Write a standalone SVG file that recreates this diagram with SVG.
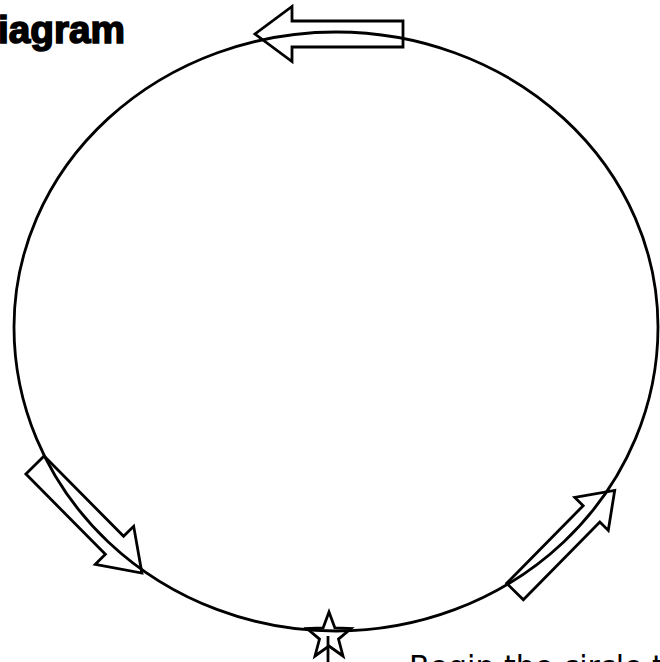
<svg xmlns="http://www.w3.org/2000/svg" width="660" height="662" viewBox="0 0 660 662">
<style>
.line{fill:none;stroke:#000;stroke-width:2.8;stroke-linejoin:miter}
.arrow{fill:none;stroke:#000;stroke-width:2.8;stroke-linejoin:miter}
.title{font-family:"Liberation Sans",Arial,sans-serif;font-weight:bold;font-size:38px;fill:#000;stroke:#000;stroke-width:1.6}
.caption{font-family:"DejaVu Sans",sans-serif;font-size:30px;fill:#000}
</style>
<rect width="660" height="662" fill="#fff"/>
<text class="title" x="-2" y="43" textLength="127" lengthAdjust="spacingAndGlyphs">iagram</text>
<g id="cycle">
<path class="line" d="M14,327 A322,295 0 0,1 336,32 A322,295 0 0,1 658,327 A322,304 0 0,1 336,631 A322,304 0 0,1 14,327 Z"/>
</g>
<g id="connectors">
<polygon id="arrow-top" class="arrow" transform="translate(403,34) rotate(180)" points="0,-13 111,-13 111,-27.5 148,0 111,27.5 111,13 0,13"/>
<polygon id="arrow-left" class="arrow" transform="translate(35,465) rotate(45.3)" points="0,-12.8 113,-12.8 113,-27 152,0 113,27 113,12.8 0,12.8"/>
<polygon id="arrow-right" class="arrow" transform="translate(515,591.5) rotate(-45.4)" points="0,-11.7 109,-11.7 109,-23.5 142,0 109,23.5 109,11.7 0,11.7"/>
</g>
<g id="start">
<polygon class="line" stroke-width="3.6" points="329,612 334.9,627.9 351,628.6 338.5,639.1 343,656 329,646 315,656 319.5,639.1 307,628.6 323.1,627.9"/>
<line class="line" x1="328" y1="636" x2="328" y2="662"/>
</g>
<text class="caption" x="409" y="677">Begin the circle t</text>
</svg>
